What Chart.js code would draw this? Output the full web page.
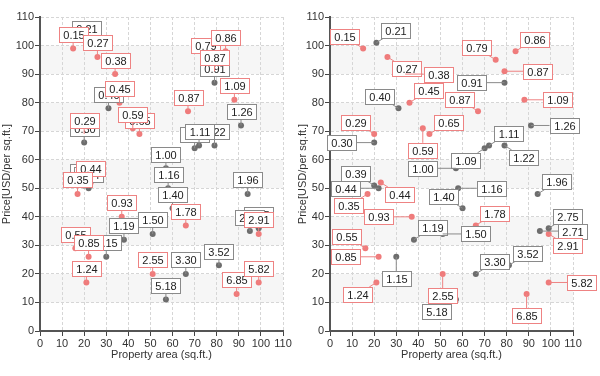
<!DOCTYPE html>
<html>
<head>
<meta charset="utf-8">
<script src="https://cdn.jsdelivr.net/npm/chart.js@4.4.0/dist/chart.umd.min.js"></script>
<style>
  body { margin: 0; background: #fff; }
  .wrap { display: flex; width: 600px; height: 376px; }
  canvas { display: block; }
</style>
</head>
<body>
<div class="wrap">
  <canvas id="chartLeft" width="296" height="376"></canvas>
  <canvas id="chartRight" width="304" height="376"></canvas>
</div>
<script>
// red series
const redX = [15, 26, 34, 75, 84, 79, 36, 67, 88, 20, 45, 42, 23, 17, 37, 66, 99, 16, 22, 21, 51, 89, 99];
const redY = [99, 96, 90, 95, 98, 91, 80, 77, 81, 69, 69, 71, 52, 48, 40, 37, 34, 29, 26, 17, 20, 13, 17];
const redText = ["0.15", "0.27", "0.38", "0.79", "0.86", "0.87", "0.45", "0.87", "1.09", "0.29", "0.65", "0.59",
  "0.44", "0.35", "0.93", "1.78", "2.91", "0.55", "0.85", "1.24", "2.55", "6.85", "5.82"];
const redPlace = ["NW", "SE", "E", "NW", "NE", "E", "NE", "NW", "E", "NW", "NE", "S",
  "SE", "SW", "W", "NE", "SE", "NW", "W", "SW", "S", "S", "E"];

// gray series
const grayX = [21, 79, 31, 91, 20, 70, 79, 72, 57, 58, 20, 22, 94, 60, 99, 95, 38, 51, 30, 66, 81, 57];
const grayY = [101, 87, 78, 72, 66, 64, 65, 65, 57, 50, 51, 50, 48, 43, 36, 35, 32, 34, 26, 20, 23, 11];
const grayText = ["0.21", "0.91", "0.40", "1.26", "0.30", "1.09", "1.22", "1.11", "1.00", "1.16", "0.39", "0.44",
  "1.96", "1.40", "2.75", "2.71", "1.19", "1.50", "1.15", "3.30", "3.52", "5.18"];
const grayPlace = ["NE", "W", "NW", "E", "W", "SW", "SE", "NE", "W", "E", "NW", "W",
  "NE", "NW", "NE", "E", "NE", "E", "S", "NE", "NE", "SW"];

const axisMin = 0;
const axisMax = 110;
const axisStep = 10;

Chart.defaults.font.family = '"Liberation Sans", Arial, sans-serif';
Chart.defaults.font.size = 11;
Chart.defaults.color = '#333';

const RED = '#ef7b7b';
const GRAY = '#6d6d6d';

// label directions for the smart layout
const OFFSETS = {
  NW: [-19, -12], NE: [19, -12], SE: [19, 12], SW: [-19, 12],
  E: [33, 0], W: [-33, 0], S: [0, 22], N: [0, -22]
};

// light stripes every other band
const bandPlugin = {
  id: 'bands',
  beforeDraw(chart) {
    const { ctx, chartArea, scales } = chart;
    ctx.save();
    ctx.fillStyle = '#f6f6f6';
    for (let v = 10; v < axisMax; v += 20) {
      const top = scales.y.getPixelForValue(v + 10);
      const bottom = scales.y.getPixelForValue(v);
      ctx.fillRect(chartArea.left, top, chartArea.right - chartArea.left, bottom - top);
    }
    ctx.restore();
  }
};

const labelPlugin = {
  id: 'pointLabels',
  afterDatasetsDraw(chart, args, opts) {
    const ctx = chart.ctx;
    ctx.save();
    ctx.font = '11px "Liberation Sans", Arial, sans-serif';
    ctx.textAlign = 'center';
    ctx.textBaseline = 'middle';
    ctx.lineWidth = 1;
    chart.data.datasets.forEach((ds, di) => {
      const meta = chart.getDatasetMeta(di);
      meta.data.forEach((pt, i) => {
        const txt = ds.valueText[i];
        const w = Math.round(ctx.measureText(txt).width + 8);
        const h = 15;
        let dx = 0, dy = -14;
        if (opts.smart) {
          [dx, dy] = OFFSETS[ds.placement[i]];
        }
        const cx = pt.x + dx, cy = pt.y + dy;
        const left = Math.round(cx - w / 2) + 0.5;
        const top = Math.round(cy - h / 2) + 0.5;
        // leader line from the point to the box edge
        const vx = pt.x - cx, vy = pt.y - cy;
        const tx = vx === 0 ? Infinity : (w / 2) / Math.abs(vx);
        const ty = vy === 0 ? Infinity : (h / 2) / Math.abs(vy);
        const t = Math.min(tx, ty);
        ctx.strokeStyle = ds.boxColor;
        if (t < 1) {
          ctx.beginPath();
          ctx.moveTo(pt.x, pt.y);
          ctx.lineTo(cx + vx * t, cy + vy * t);
          ctx.stroke();
        }
        ctx.fillStyle = '#fff';
        ctx.fillRect(left, top, w, h);
        ctx.strokeRect(left, top, w, h);
        ctx.fillStyle = '#222';
        ctx.fillText(txt, left + w / 2, top + h / 2 + 0.5);
      });
    });
    ctx.restore();
  }
};

function scaleOpts(titleText, isX, size) {
  return {
    type: 'linear',
    min: axisMin,
    max: axisMax,
    ticks: {
      stepSize: axisStep, color: '#333', padding: 1, font: { size: 11 },
      maxRotation: 0, minRotation: 0, autoSkip: false
    },
    grid: {
      color: '#d6d6d6',
      tickColor: '#444',
      tickLength: 5,
      tickBorderDash: []
    },
    border: { display: true, color: '#555', width: 2, dash: [3, 2] },
    title: {
      display: true,
      text: titleText,
      color: '#333',
      font: { size: 11 },
      padding: isX ? { top: 0, bottom: 14 } : { top: 0, bottom: 0 }
    },
    afterFit(scale) {
      if (isX) scale.height = size; else scale.width = size;
    }
  };
}

function makeChart(canvas, smart, yWidth, padRight) {
  return new Chart(canvas, {
    type: 'scatter',
    data: {
      datasets: [
        {
          data: grayX.map((x, i) => ({ x: x, y: grayY[i] })),
          valueText: grayText,
          placement: grayPlace,
          boxColor: '#8a8a8a',
          backgroundColor: GRAY,
          borderWidth: 0,
          pointRadius: 3
        },
        {
          data: redX.map((x, i) => ({ x: x, y: redY[i] })),
          valueText: redText,
          placement: redPlace,
          boxColor: '#ee8383',
          backgroundColor: RED,
          borderWidth: 0,
          pointRadius: 3
        }
      ]
    },
    options: {
      responsive: false,
      animation: false,
      layout: { padding: { top: 17, right: padRight, bottom: 0, left: 0 } },
      plugins: {
        legend: { display: false },
        tooltip: { enabled: false },
        pointLabels: { smart: smart }
      },
      scales: {
        x: scaleOpts('Property area (sq.ft.)', true, 45),
        y: scaleOpts('Price[USD/per sq.ft.]', false, yWidth)
      }
    },
    plugins: [bandPlugin, labelPlugin]
  });
}

makeChart(document.getElementById('chartLeft'), false, 40, 13);
makeChart(document.getElementById('chartRight'), true, 34, 27);
</script>
</body>
</html>
